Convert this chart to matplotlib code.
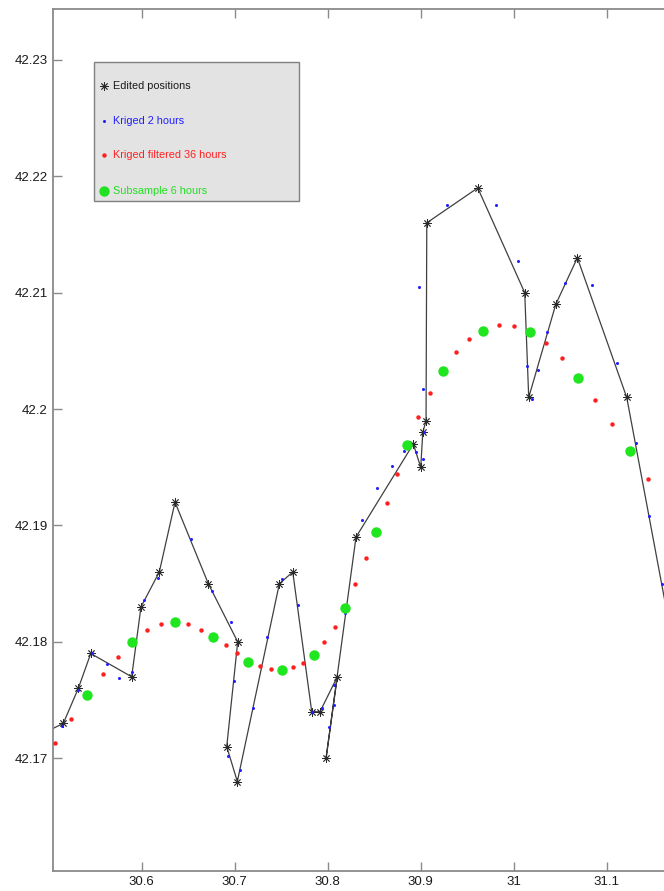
import matplotlib
matplotlib.use('Agg')
import matplotlib.pyplot as plt
from matplotlib.patches import Rectangle
from matplotlib.ticker import FuncFormatter

plt.rcParams['font.family'] = ['Liberation Sans', 'DejaVu Sans']

# edited drifter fixes (lon, lat), in time order
edited_lon = [30.4906, 30.5157, 30.5318, 30.5452, 30.5892, 30.5992, 30.6189, 30.6358,
              30.6716, 30.7032, 30.6914, 30.7028, 30.7480, 30.7624, 30.7828, 30.7917,
              30.8103, 30.7982, 30.8304, 30.8920, 30.9000, 30.9022, 30.9057, 30.9065,
              30.9613, 31.0118, 31.0161, 31.0452, 31.0684, 31.1215, 31.1660]
edited_lat = [42.1720, 42.1730, 42.1760, 42.1790, 42.1770, 42.1830, 42.1860, 42.1920,
              42.1850, 42.1800, 42.1710, 42.1680, 42.1850, 42.1860, 42.1740, 42.1740,
              42.1770, 42.1700, 42.1890, 42.1970, 42.1950, 42.1980, 42.1990, 42.2160,
              42.2190, 42.2100, 42.2010, 42.2090, 42.2130, 42.2010, 42.1820]

# kriged track, 2 hour step
kriged_lon = [30.5140, 30.5318, 30.5462, 30.5624, 30.5759, 30.5892, 30.6025, 30.6178,
              30.6530, 30.6753, 30.6960, 30.6992, 30.6931, 30.7057, 30.7200, 30.7351,
              30.7512, 30.7677, 30.7834, 30.7942, 30.8017, 30.8068, 30.8068, 30.8186,
              30.8369, 30.8530, 30.8688, 30.8820, 30.8949, 30.9022, 30.9035, 30.9028,
              30.8985, 30.9286, 30.9806, 31.0043, 31.0146, 31.0200, 31.0265, 31.0355,
              31.0548, 31.0839, 31.1114, 31.1319, 31.1458, 31.1595]
kriged_lat = [42.1728, 42.1759, 42.1790, 42.1781, 42.1769, 42.1774, 42.1836, 42.1855,
              42.1888, 42.1844, 42.1817, 42.1766, 42.1702, 42.1690, 42.1743, 42.1804,
              42.1854, 42.1832, 42.1740, 42.1743, 42.1727, 42.1746, 42.1763, 42.1825,
              42.1905, 42.1932, 42.1951, 42.1964, 42.1963, 42.1957, 42.1980, 42.2017,
              42.2105, 42.2175, 42.2175, 42.2127, 42.2037, 42.2009, 42.2034, 42.2066,
              42.2108, 42.2107, 42.2040, 42.1971, 42.1908, 42.1850]

# kriged track after 36 hour low-pass filter
filtered_lon = [30.5068, 30.5240, 30.5415, 30.5581, 30.5742, 30.5899, 30.6057, 30.6211,
                30.6355, 30.6501, 30.6638, 30.6767, 30.6903, 30.7028, 30.7146, 30.7269,
                30.7387, 30.7509, 30.7624, 30.7738, 30.7849, 30.7963, 30.8075, 30.8186,
                30.8294, 30.8412, 30.8519, 30.8634, 30.8742, 30.8856, 30.8974, 30.9100,
                30.9237, 30.9376, 30.9523, 30.9673, 30.9839, 31.0000, 31.0172, 31.0344,
                31.0516, 31.0688, 31.0874, 31.1057, 31.1247, 31.1441]
filtered_lat = [42.1713, 42.1734, 42.1754, 42.1772, 42.1787, 42.1800, 42.1810, 42.1815,
                42.1817, 42.1815, 42.1810, 42.1804, 42.1797, 42.1790, 42.1783, 42.1779,
                42.1777, 42.1776, 42.1778, 42.1782, 42.1789, 42.1800, 42.1813, 42.1829,
                42.1850, 42.1872, 42.1894, 42.1919, 42.1944, 42.1969, 42.1993, 42.2014,
                42.2033, 42.2049, 42.2060, 42.2067, 42.2072, 42.2071, 42.2066, 42.2057,
                42.2044, 42.2027, 42.2008, 42.1987, 42.1964, 42.1940]

# 6 hour subsample of the filtered track
sub_lon = [30.5415, 30.5899, 30.6355, 30.6767, 30.7146, 30.7509, 30.7849, 30.8186,
           30.8519, 30.8856, 30.9237, 30.9673, 31.0172, 31.0688, 31.1247]
sub_lat = [42.1754, 42.1800, 42.1817, 42.1804, 42.1783, 42.1776, 42.1789, 42.1829,
           42.1894, 42.1969, 42.2033, 42.2067, 42.2066, 42.2027, 42.1964]

x_ticks = [30.6, 30.7, 30.8, 30.9, 31.0, 31.1]
y_ticks = [42.17, 42.18, 42.19, 42.20, 42.21, 42.22, 42.23]

labels = ['Edited positions', 'Kriged 2 hours', 'Kriged filtered 36 hours', 'Subsample 6 hours']
text_colors = ['#1a1a1a', '#2020ff', '#ff2020', '#22e022']
styles = [
    dict(marker=(8, 2, 0), ms=6, mec='#2a2a2a', mew=0.6, color='#404040'),
    dict(marker='o', ms=2.2, color='#1f1fff', mec='none'),
    dict(marker='o', ms=3.2, color='#ff1f1f', mec='none'),
    dict(marker='o', ms=7.5, color='#1fe61f', mec='none'),
]

fig = plt.figure(figsize=(6.64, 8.91), dpi=100)
ax = fig.add_axes([0.0803, 0.0228, 0.974, 0.9668])

ax.plot(edited_lon, edited_lat, ls='-', lw=0.9, zorder=2, **styles[0])
ax.plot(kriged_lon, kriged_lat, ls='none', zorder=3, **styles[1])
ax.plot(filtered_lon, filtered_lat, ls='none', zorder=3, **styles[2])
ax.plot(sub_lon, sub_lat, ls='none', zorder=4, **styles[3])

ax.set_xlim(30.50495, 31.20032)
ax.set_ylim(42.16034, 42.23435)
ax.set_xticks(x_ticks)
ax.set_yticks(y_ticks)
fmt = FuncFormatter(lambda v, _: f'{v:g}')
ax.xaxis.set_major_formatter(fmt)
ax.yaxis.set_major_formatter(fmt)
ax.tick_params(direction='in', length=6.5, width=1, color='#8a8a8a', top=True, right=True,
               labelsize=9.5, labelcolor='#1a1a1a', pad=4)
for s in ax.spines.values():
    s.set_color('#8a8a8a')
    s.set_linewidth(1.3)

# legend box drawn by hand, MATLAB style
ax.add_patch(Rectangle((0.0634, 0.7778), 0.3165, 0.1614, transform=ax.transAxes,
                       fc='#e3e3e3', ec='#808080', lw=1, zorder=5))
rows = [0.9110, 0.8707, 0.8309, 0.7894]
for lab, col, st, y in zip(labels, text_colors, styles, rows):
    st = dict(st)
    st.pop('color')
    ax.plot([0.0784], [y], transform=ax.transAxes, ls='none', color=col if lab != labels[0] else '#2a2a2a',
            zorder=6, clip_on=False, **st)
    ax.text(0.0923, y, lab, color=col, fontsize=7.8, va='center', transform=ax.transAxes, zorder=6)

fig.savefig('out.png', dpi=100)
